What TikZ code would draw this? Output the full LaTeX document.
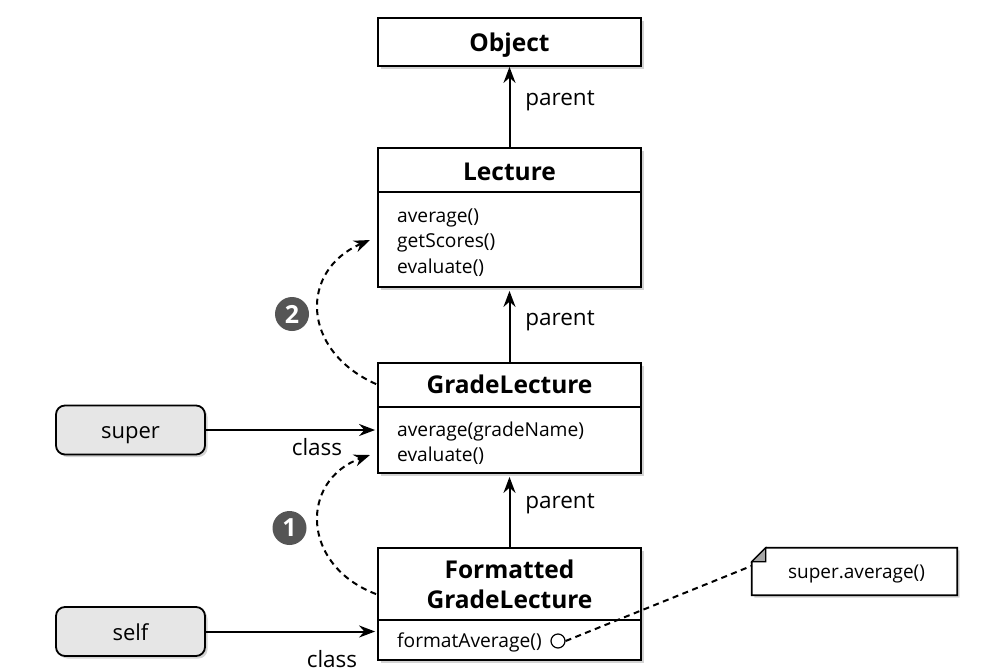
\documentclass[tikz,border=0pt]{standalone}
\usepackage{fontspec}
\setmainfont{Open Sans}
\usetikzlibrary{arrows.meta,shadows,calc}
\definecolor{keygray}{HTML}{E6E6E6}
\definecolor{numgray}{HTML}{555555}
\begin{document}
\begin{tikzpicture}[x=1pt,y=-1pt,
  shd/.style={drop shadow={opacity=0.35,shadow xshift=2.5pt,shadow yshift=-2.5pt}},
  classbox/.style={draw, line width=1.8pt, fill=white, shd, inner sep=0pt, minimum width=263pt},
  title/.style={font=\fontsize{24.5}{29}\selectfont\bfseries, inner sep=0pt, anchor=base},
  method/.style={font=\fontsize{19.2}{22}\selectfont, anchor=base west, inner sep=0pt},
  lbl/.style={font=\fontsize{22.5}{26}\selectfont, inner sep=0pt, anchor=base},
  keybox/.style={draw, line width=1.8pt, fill=keygray, rounded corners=9pt, shd, minimum width=149pt, minimum height=49pt},
  keytext/.style={font=\fontsize{22}{26}\selectfont, inner sep=0pt, anchor=base},
  arr/.style={line width=2pt, -{Stealth[length=16pt,width=12pt]}},
  darr/.style={line width=2pt, dash pattern=on 6pt off 4.5pt, -{Stealth[length=16pt,width=12pt]}},
  divider/.style={line width=1.3pt},
  numc/.style={circle, fill=numgray, text=white, minimum size=34pt, inner sep=0pt, font=\fontsize{25}{25}\selectfont\bfseries}
]
\useasboundingbox (0,0) rectangle (1002,670);

% class boxes
\node[classbox, minimum height=48pt] (obj) at (509.5,42) {};
\node[title] (objt) at (509.5,51.5) {Object};

\node[classbox, minimum height=139pt] (lec) at (509.5,217.5) {};
\node[title] (lect) at (509.5,180) {Lecture};
\draw[divider] ($(lec.north west)+(0,45)$) -- ($(lec.north east)+(0,45)$);
\node[method] (m1) at (397,222) {average()};
\node[method] (m2) at (397,247.5) {getScores()};
\node[method] (m3) at (397,273) {evaluate()};

\node[classbox, minimum height=110pt] (grade) at (509.5,418) {};
\node[title] (gradet) at (509.5,393.5) {GradeLecture};
\draw[divider] ($(grade.north west)+(0,45)$) -- ($(grade.north east)+(0,45)$);
\node[method] (g1) at (397,436) {average(gradeName)};
\node[method] (g2) at (397,461.5) {evaluate()};

\node[classbox, minimum height=112pt] (fmt) at (509.5,604) {};
\node[title] (fmtt1) at (509.5,578) {Formatted};
\node[title] (fmtt2) at (509.5,608.5) {GradeLecture};
\draw[divider] ($(fmt.north west)+(0,73)$) -- ($(fmt.north east)+(0,73)$);
\node[method] (f1) at (397,647.5) {formatAverage()};
\node[draw, circle, line width=1.2pt, minimum size=14pt, inner sep=0pt] (dot) at (558,641) {};

% parent arrows
\draw[arr] (lec.north) -- (obj.south);
\node[lbl] (p1) at (560,105) {parent};
\draw[arr] (grade.north) -- ([yshift=-3pt]lec.south);
\node[lbl] (p2) at (560,325) {parent};
\draw[arr] (fmt.north) -- ([yshift=-3pt]grade.south);
\node[lbl] (p3) at (560,508.5) {parent};

% super / self
\node[keybox] (super) at (130.5,430) {};
\node[keytext] (supert) at (130.5,438.3) {super};
\node[keybox] (self) at (130.5,631.5) {};
\node[keytext] (selft) at (130.5,640) {self};
\draw[arr] (super.east) -- ([xshift=-2pt]super.east -| grade.west);
\node[lbl] (c1) at (317,455) {class};
\draw[arr] (self.east) -- ([xshift=-2pt]self.east -| fmt.west);
\node[lbl] (c2) at (332,667.5) {class};

% dashed lookup arrows
\coordinate (g0) at ($(grade.north west)+(-1,22)$);
\coordinate (l0) at (370,240);
\draw[darr] (g0) .. controls (300,350) and (300,270) .. (l0);
\coordinate (f0) at ($(fmt.north west)+(-1,47)$);
\coordinate (gg) at (370,455);
\draw[darr] (f0) .. controls (300,565) and (300,480) .. (gg);
\node[numc] (n2) at (292,314) {2};
\node[numc] (n1) at (289.5,528) {1};

% note
\node[minimum width=205pt, minimum height=47pt, inner sep=0pt] (note) at (854.5,571.5) {};
\draw[line width=1.8pt, fill=white, shd] ($(note.north west)+(0,14)$) -- ($(note.north west)+(14,0)$) -- (note.north east) -- (note.south east) -- (note.south west) -- cycle;
\draw[line width=1.2pt, fill=gray!70] ($(note.north west)+(0,14)$) -- ($(note.north west)+(14,0)$) -- ($(note.north west)+(14,14)$) -- cycle;
\node[font=\fontsize{19}{22}\selectfont, inner sep=0pt] (notet) at (856.5,574) {super.average()};
\coordinate (nl) at ($(note.north west)+(0,18)$);
\draw[line width=2pt, dash pattern=on 6pt off 4.5pt] (dot.east) -- (nl);
\end{tikzpicture}
\end{document}
